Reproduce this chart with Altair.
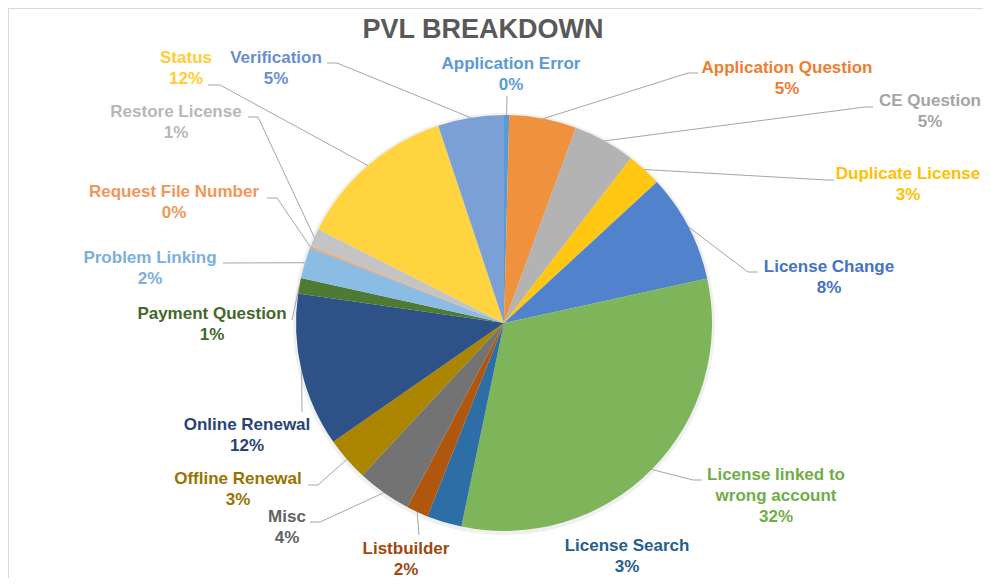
import altair as alt
import pandas as pd
import numpy as np

# ---------------- data ----------------
categories = [
    "Application Error", "Application Question", "CE Question", "Duplicate License",
    "License Change", "License linked to wrong account", "License Search", "Listbuilder",
    "Misc", "Offline Renewal", "Online Renewal", "Payment Question", "Problem Linking",
    "Request File Number", "Restore License", "Status", "Verification",
]
values = [0.4, 5.2, 4.8, 2.7, 8.4, 31.6, 2.7, 1.7, 4.2, 3.4, 11.9, 1.2, 2.4, 0.15, 1.4, 12.4, 5.1]

# ---------------- styles ----------------
slice_colors = ["#5B9BD5", "#F0913D", "#B3B3B3", "#FFC711", "#5183CD", "#7EB45A", "#2D6EA6",
                "#B0570D", "#737373", "#AB8500", "#2E5288", "#4E7A33", "#8BBCE4", "#F4A46B",
                "#C4C4C4", "#FFD43F", "#7BA0D6"]
label_colors = ["#5B9BD5", "#ED7D31", "#A5A5A5", "#FFC000", "#4472C4", "#70AD47", "#255E91",
                "#9E480E", "#636363", "#997300", "#264478", "#43682B", "#7CAFDD", "#F1975A",
                "#B7B7B7", "#FFCD33", "#698ED0"]
wrap = {"License linked to wrong account": ["License linked to", "wrong account"]}

# ---------------- layout (plot-area pixels) ----------------
W, H = 975, 570
CX, CY, R = 496, 315, 208
LINE_H = 21
# centre of first label line
label_xy = [(503, 56), (779, 60), (922, 93), (900, 166), (821, 259), (768, 467), (619, 538),
            (398, 541), (279, 509), (230, 471), (239, 417), (204, 306), (142, 250), (166, 184),
            (168, 104), (178, 50), (268, 50)]
# leader line: (label end, elbow) or None
leader = [((499, 88), (499, 88)), ((690, 65), (680, 65)), ((865, 99), (857, 99)),
          ((826, 172), (819, 172)), ((750, 264), (740, 264)), ((694, 472), (685, 472)), None,
          ((411, 527), (411, 527)), ((302, 514), (312, 514)), ((300, 477), (310, 477)),
          ((294, 404), (294, 404)), ((284, 312), (284, 312)), ((215, 255), (215, 255)),
          ((259, 190), (269, 190)), ((240, 109), (250, 109)), ((200, 77), (212, 77)),
          ((319, 55), (329, 55))]

total = sum(values)
pct_labels = [f"{round(v / total * 100)}%" for v in values]

df = pd.DataFrame({"category": categories, "value": values, "idx": range(len(categories))})

# text rows
trows = []
for i, c in enumerate(categories):
    lines = wrap.get(c, [c]) + [pct_labels[i]]
    x0, y0 = label_xy[i]
    for k, t in enumerate(lines):
        trows.append({"category": c, "text": t, "x": x0, "y": y0 + k * LINE_H, "k": k})
tdf = pd.DataFrame(trows)

# leader rows
cum = np.cumsum(values)
lrows = []
for i, c in enumerate(categories):
    if leader[i] is None:
        continue
    mid = (cum[i] - values[i] / 2) / total * 2 * np.pi
    ex, ey = CX + R * np.sin(mid), CY - R * np.cos(mid)
    (ax, ay), (bx, by) = leader[i]
    lrows += [{"category": c, "pt": 0, "x": ax, "y": ay},
              {"category": c, "pt": 1, "x": bx, "y": by},
              {"category": c, "pt": 2, "x": ex, "y": ey}]
ldf = pd.DataFrame(lrows)

xs = alt.Scale(domain=[0, W], nice=False, zero=False)
ys = alt.Scale(domain=[0, H], nice=False, zero=False, reverse=True)

shadow = alt.Chart(pd.DataFrame({"a": [0]})).mark_arc(
    radius=R + 3, color="#000000", opacity=0.06, theta=0, theta2=6.2832
).encode(x=alt.value(CX), y=alt.value(CY + 1))

pie = alt.Chart(df).mark_arc(radius=R).encode(
    theta=alt.Theta("value:Q", stack=True),
    color=alt.Color("category:N", scale=alt.Scale(domain=categories, range=slice_colors), legend=None),
    order=alt.Order("idx:Q"),
    x=alt.value(CX), y=alt.value(CY),
)

lines = alt.Chart(ldf).mark_line(color="#A6A6A6", strokeWidth=1).encode(
    x=alt.X("x:Q", scale=xs, axis=None),
    y=alt.Y("y:Q", scale=ys, axis=None),
    detail="category:N",
    order="pt:Q",
)

labels = alt.Chart(tdf).mark_text(
    font="Liberation Sans", fontSize=17, fontWeight="bold", align="center", baseline="middle"
).encode(
    x=alt.X("x:Q", scale=xs, axis=None),
    y=alt.Y("y:Q", scale=ys, axis=None),
    text="text:N",
    color=alt.Color("category:N", scale=alt.Scale(domain=categories, range=label_colors), legend=None),
)

title = alt.Chart(pd.DataFrame({"t": ["PVL BREAKDOWN"]})).mark_text(
    font="Liberation Sans", fontSize=27, fontWeight="bold", color="#595959",
    align="center", baseline="middle"
).encode(text="t:N", x=alt.value(475), y=alt.value(22))

frame_top = alt.Chart(pd.DataFrame({"a": [0]})).mark_rule(color="#D9D9D9").encode(
    x=alt.value(0), x2=alt.value(W), y=alt.value(0.5))
frame_left = alt.Chart(pd.DataFrame({"a": [0]})).mark_rule(color="#D9D9D9").encode(
    x=alt.value(0.5), y=alt.value(0), y2=alt.value(H))

chart = alt.layer(frame_top, frame_left, shadow, pie, lines, labels, title).resolve_scale(
    color="independent"
).properties(
    width=W, height=H, padding=0, autosize=alt.AutoSizeParams(type="none"),
    background="white",
).configure_view(stroke=None)

chart.save("out.html", embed_options={"renderer": "svg", "actions": False})
